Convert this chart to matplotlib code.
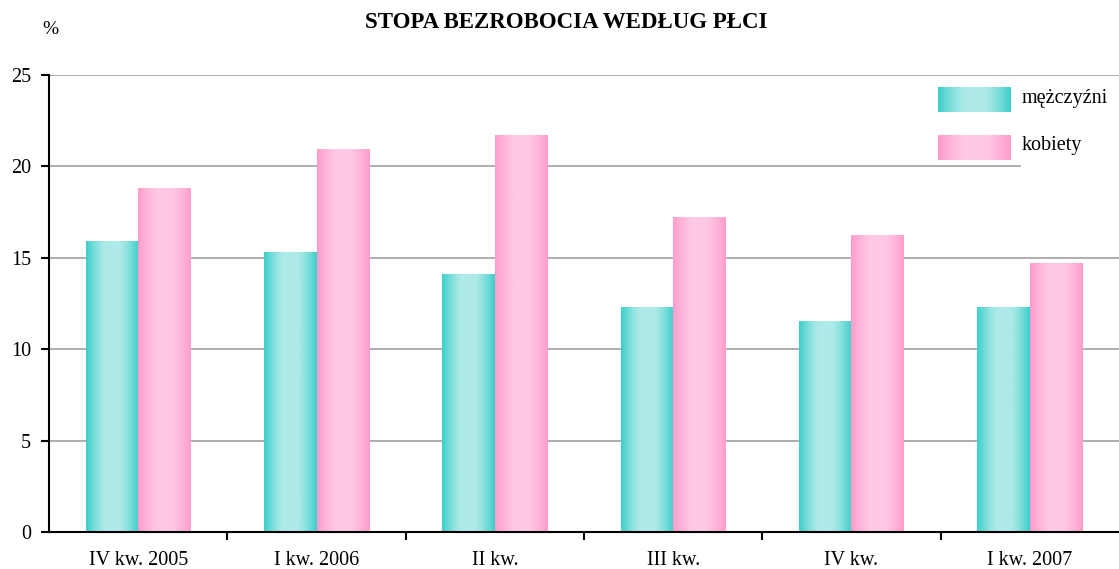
import numpy as np
import matplotlib
matplotlib.use("Agg")
import matplotlib.pyplot as plt
from matplotlib.ticker import MultipleLocator, FixedLocator

categories = ["IV kw. 2005", "I kw. 2006", "II kw.", "III kw.", "IV kw.", "I kw. 2007"]
men = [15.9, 15.3, 14.1, 12.3, 11.5, 12.3]
women = [18.8, 20.9, 21.7, 17.2, 16.2, 14.7]
series_names = ["mężczyźni", "kobiety"]
title = "STOPA BEZROBOCIA WEDŁUG PŁCI"

plt.rcParams['font.family'] = ['Liberation Serif', 'DejaVu Serif']

cyan_dark = np.array([62, 207, 203]) / 255
cyan_light = np.array([174, 234, 232]) / 255
pink_dark = np.array([255, 156, 205]) / 255
pink_light = np.array([255, 200, 228]) / 255


def gradient(dark, light, n=64):
    t = np.linspace(0, 1, n)
    w = 1 - np.abs(2 * t - 1) ** 1.6
    w = np.clip(w * 1.15, 0, 1)
    cols = dark[None, :] * (1 - w[:, None]) + light[None, :] * w[:, None]
    return cols[None, :, :]


g_cyan = gradient(cyan_dark, cyan_light)
g_pink = gradient(pink_dark, pink_light)

fig = plt.figure(figsize=(11.19, 5.69), dpi=100)
ax = fig.add_axes([49 / 1119, 1 - 532 / 569, 1 - 49 / 1119, (532 - 75) / 569])

x = np.arange(len(categories))
bw = 0.295
bars_m = ax.bar(x - bw / 2, men, bw, color='none', zorder=3)
bars_w = ax.bar(x + bw / 2, women, bw, color='none', zorder=3)
for bars, g in ((bars_m, g_cyan), (bars_w, g_pink)):
    for p in bars:
        x0, y0 = p.get_x(), p.get_y()
        ax.imshow(g, extent=[x0, x0 + p.get_width(), y0, y0 + p.get_height()],
                  aspect='auto', zorder=3, interpolation='bilinear')

ax.set_xlim(-0.5, len(categories) - 0.5)
ax.set_ylim(0, 25)
ax.yaxis.set_major_locator(MultipleLocator(5))
ax.set_xticks(x)
ax.set_xticklabels(categories)
ax.xaxis.set_minor_locator(FixedLocator(np.arange(0.5, len(categories) - 0.5, 1)))
ax.tick_params(axis='x', which='major', length=0, pad=14, labelsize=14.5)
ax.tick_params(axis='x', which='minor', length=6, width=1.5, direction='out')
ax.tick_params(axis='y', length=6, width=1.5, pad=7, labelsize=14.5)

for v in [5, 10, 15, 20, 25]:
    ax.axhline(v, color='#a8a8a8', lw=1.3, zorder=1)
# legend background hides part of the 20 gridline
ax.plot([(1022 - 49) / (1119 - 49) * 6 - 0.5, 5.6], [20, 20],
        color='white', lw=2.5, zorder=2, clip_on=True)

for s in ['top', 'right']:
    ax.spines[s].set_visible(False)
for s in ['left', 'bottom']:
    ax.spines[s].set_linewidth(1.5)
    ax.spines[s].set_zorder(4)

fig.text(566 / 1119, 1 - 22 / 569, title, ha='center', va='center',
         fontsize=16.5, fontweight='bold')
fig.text(50 / 1119, 1 - 29 / 569, "%", ha='center', va='center', fontsize=14)

# legend
for i, (g, name) in enumerate(((g_cyan, series_names[0]), (g_pink, series_names[1]))):
    top = 87 + i * 48
    lax = fig.add_axes([938 / 1119, 1 - (top + 25) / 569, 73 / 1119, 25 / 569])
    lax.imshow(g, aspect='auto', extent=[0, 1, 0, 1], interpolation='bilinear')
    lax.set_axis_off()
    fig.text(1022 / 1119, 1 - (top + 11) / 569, name, ha='left', va='center', fontsize=14.5)

fig.savefig("out.png", dpi=100)
